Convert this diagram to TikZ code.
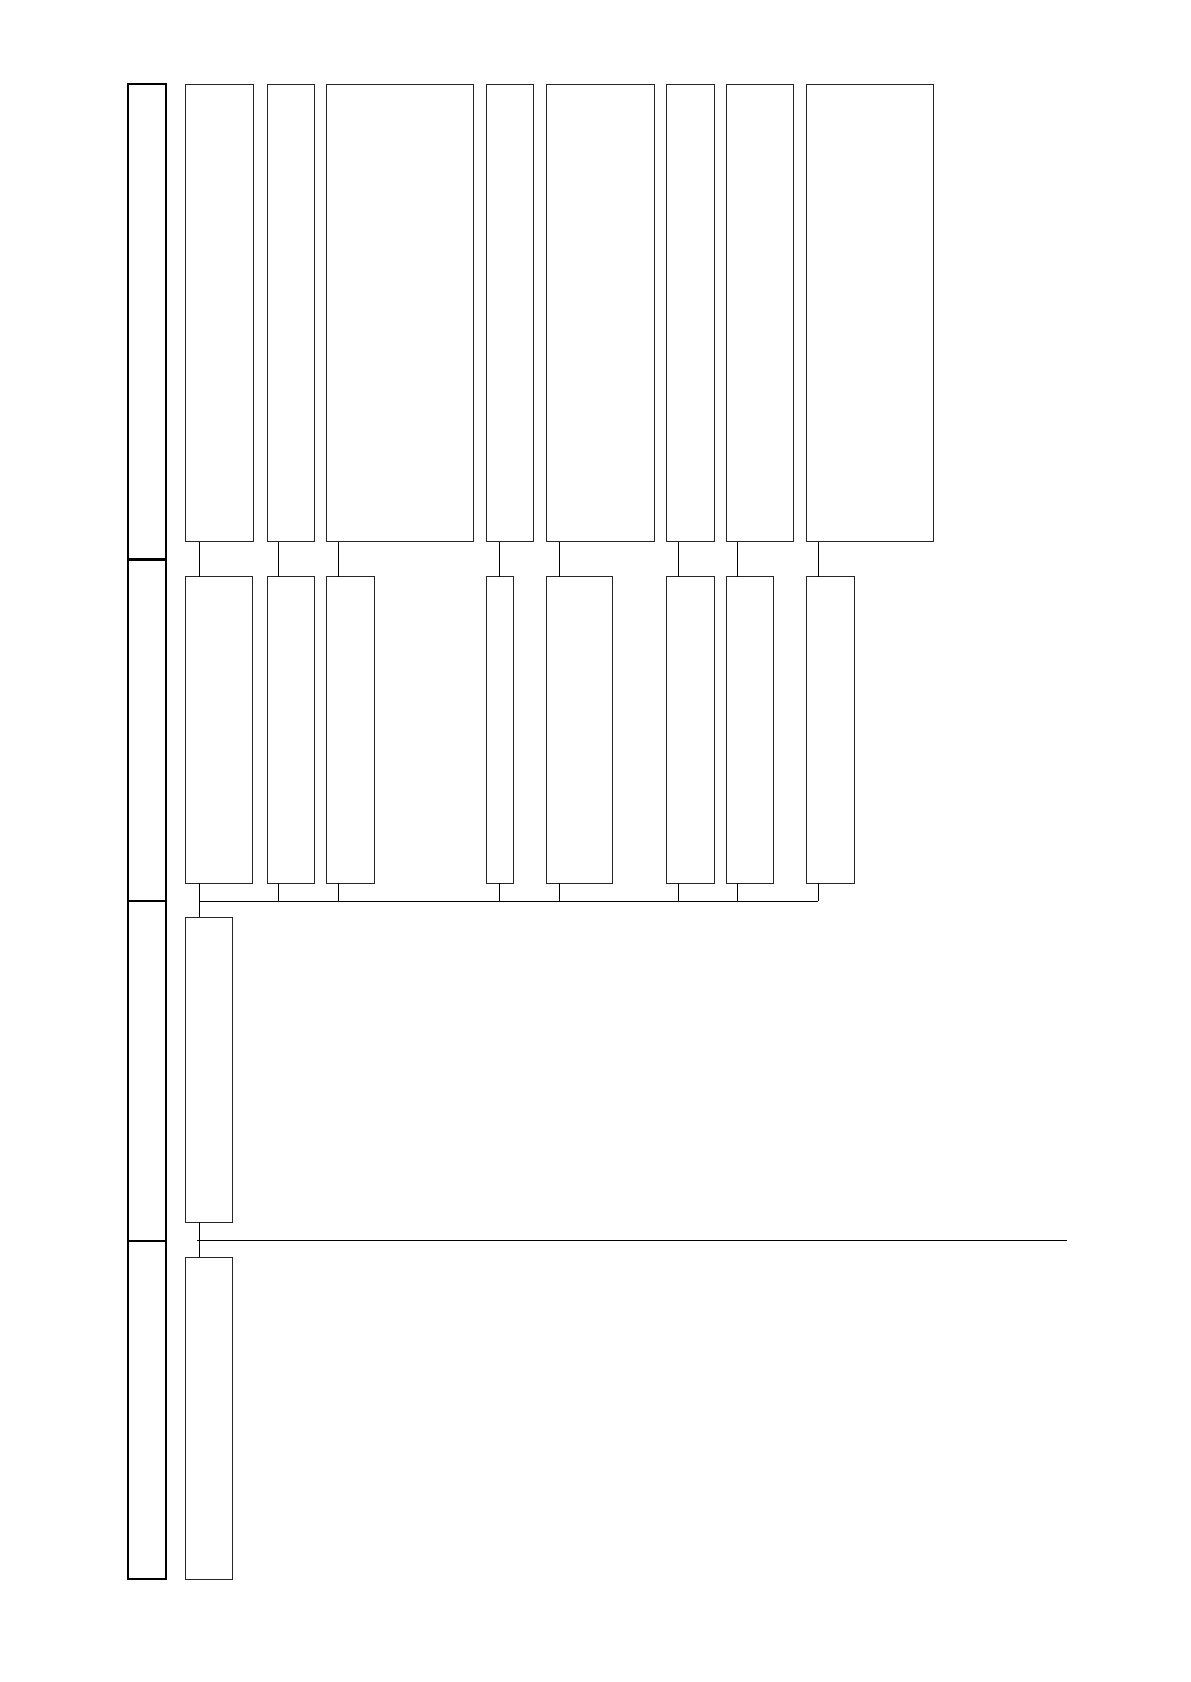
\documentclass[tikz,border=0pt]{standalone}
\usetikzlibrary{calc}
\begin{document}
\begin{tikzpicture}[x=0.5pt,y=-0.5pt,
  box/.style={draw=black!85, line width=0.5pt, inner sep=0pt, outer sep=0pt, anchor=north west},
  conn/.style={draw=black, line width=0.5pt},
  lanebox/.style={draw=black, line width=1.1pt, inner sep=0pt, outer sep=0pt, anchor=north west, minimum width=19pt}]
\useasboundingbox (0,0) rectangle (1190,1682);
% left lanes
\node[lanebox, minimum height=237.75pt] (l1) at (128,84) {};
\node[lanebox, minimum height=170.75pt] (l2) at (128,559.5) {};
\node[lanebox, minimum height=170pt] (l3) at (128,901) {};
\node[lanebox, minimum height=169pt] (l4) at (128,1241) {};
% top and second rows
\foreach \i/\a/\b/\c/\off in {1/185.3/253.2/252.7/14, 2/267.3/314.6/314.6/11, 3/326.7/473.5/374/11.6, 4/486.3/533.3/513.3/13, 5/546/654.7/612.3/13.3, 6/666.5/714.3/714.3/11.8, 7/726.2/793.4/773.7/11.1, 8/806.7/933.3/854.3/11.6}{
  \pgfmathsetmacro\w{(\b-\a)*0.5}
  \pgfmathsetmacro\ww{(\c-\a)*0.5}
  \node[box, minimum width=\w pt, minimum height=228.85pt] (t\i) at (\a,84) {};
  \node[box, minimum width=\ww pt, minimum height=153.15pt] (s\i) at (\a,576.7) {};
  \draw[conn] ($(t\i.south west)+(\off,0)$) -- ($(s\i.north west)+(\off,0)$);
  \draw[conn] ($(s\i.south west)+(\off,0)$) -- ($(s\i.south west)+(\off,18)$);
}
% bus
\draw[conn] ($(s1.south west)+(14,18)$) -- ($(s8.south west)+(11.6,18)$);
% third and fourth boxes
\node[box, minimum width=23.7pt, minimum height=152.35pt] (u) at (185.3,917.3) {};
\node[box, minimum width=23.7pt, minimum height=160.85pt] (v) at (185.3,1257.3) {};
\draw[conn] ($(s1.south west)+(14,0)$) -- ($(u.north west)+(14,0)$);
\draw[conn] ($(u.south west)+(14,0)$) -- ($(v.north west)+(14,0)$);
\coordinate (lineEnd) at (1066.7,1240.7);
\draw[conn] ($(u.south west)+(12,18.7)$) -- (lineEnd);
\end{tikzpicture}
\end{document}
